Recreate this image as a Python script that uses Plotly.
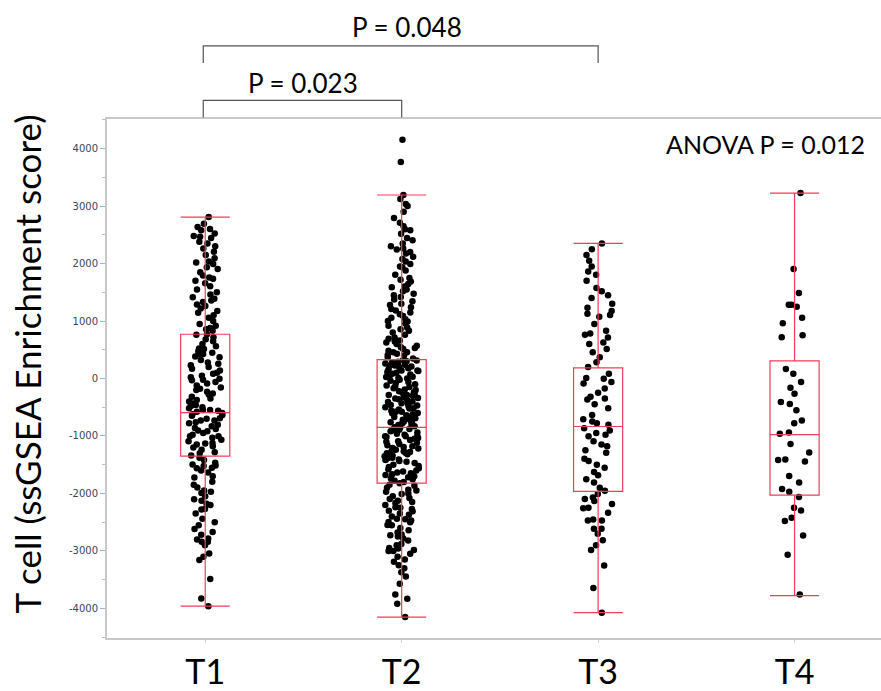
import plotly.graph_objects as go

# Groups on the category axis
groups = ["T1", "T2", "T3", "T4"]

# Per-sample T cell ssGSEA enrichment scores
t1_scores = [
    2809, 2694, 2637, 2579, 2522, 2465, 2447, 2379, 2350, 2263, 2207, 2091, 2034, 2017, 1993,
    1936, 1907, 1793, 1759, 1735, 1656, 1604, 1460, 1415, 1386, 1357, 1288, 1260, 1174, 1145,
    1058, 1002, 916, 857, 830, 771, 760, 685, 599, 513, 473, 427, 382, 427, 370, 255, 198,
    141, 83, -3, -21, -60, -89, -158, -232, -261, -318, -375, -433, -461, -547, -577,
    -519, -547, -634, -692, -731, -731, -806, -904, -950, -1007, -1007, -1064, -1122, -1133,
    -1179, -1282, -1340, -1466, -1512, -1523, -1552, -1495, -1638, -1724, -1799, -1896,
    -1971, -1993, -2126, -2200, -2269, -2281, -2441, -2556, -2671, -2785, -2802, -2843,
    -2843, -3044, -3158, -3491, -3830, -3962,
    2600, 2480, 2300, 2150, 1850, 1700, 1550, 1500, 1330, 1220, 1100, 950, 880, 720, 650,
    560, 520, 450, 320, 280, 230, 170, 100, 50, 20, -30, -120, -180, -200, -280, -350,
    -400, -480, -500, -560, -600, -620, -650, -700, -760, -780, -830, -860, -880, -920,
    -980, -1030, -1090, -1150, -1200, -1240, -1300, -1380, -1420, -1560, -1600, -1700,
    -1850, -1950, -2050, -2100, -2180, -2350, -2500, -2620, -2720, -2900, -3100,
]

t2_scores = [
    4157, 3766, 3193, 3124, 3038, 2791, 2711, 2596, 2521, 2447, 2407, 2263, 2246, 2177, 2120,
    2034, 1993, 1936, 1804, 1690, 1644, 1587, 1518, 1477, 1374, 1346, 1277, 1242, 1184, 1088,
    1058, 1002, 990, 955, 886, 857, 800, 714, 645, 628, 599, 542, 513, 485, 456, 456, 399,
    370, 313, 227, 227, 198, 141, 112, 83,
    3000, 2900, 2650, 2580, 2350, 2300, 2200, 2080, 1950, 1880, 1750, 1720, 1600, 1550, 1450,
    1420, 1300, 1210, 1150, 1120, 1030, 920, 830, 760, 690, 660, 570, 530, 430, 410, 350,
    280, 260, 250,
    141, 26, -289, -289, -347, -461, -519, -577, -605, -692, -749, -778, -892, -1007, -1007,
    -1036, -1179, -1208, -1265, -1294, -1351, -1380, -1408, -1437, -1523, -1580, -1638,
    -1666, -1753, -1822, -1867, -1936, -1971, -2011, -2097, -2126, -2166, -2241, -2269,
    -2310, -2372, -2441, -2470, -2499, -2556, -2642, -2716, -2728, -2785, -2900, -2957,
    -2986, -3003, -3003, -3101, -3187, -3301, -3370, -3446, -3571, -3761, -3835, -3921, -4151,
    320, 300, 290, 240, 210, 180, 160, 130, 100, 70, 50, 30, 10, 0, -20, -40, -60, -80,
    -100, -120, -140, -150, -170, -190, -200, -220, -240, -250, -270, -300, -320, -340,
    -360, -380, -400, -410, -430, -450, -470, -490, -500, -520, -540, -560, -580, -600,
    -620, -640, -650, -670, -700, -720, -740, -760, -780, -800, -810, -830, -850, -850,
    -870, -880, -900, -920, -940, -960, -980, -1000, -1020, -1050, -1070, -1090, -1100,
    -1120, -1140, -1160, -1190, -1220, -1240, -1260, -1280, -1300, -1320, -1340, -1360,
    -1390, -1420, -1450, -1470, -1500, -1540, -1560, -1600, -1620, -1650, -1680, -1700,
    -1720, -1740, -1780, -1800,
    -1850, -1900, -1950, -2000, -2050, -2080, -2150, -2200, -2250, -2300, -2350, -2400,
    -2450, -2500, -2550, -2600, -2680, -2750, -2820, -2880, -2950, -3050, -3150, -3250,
]

t3_scores = [
    2350, 2051, 1862, 1804, 1575, 1518, 1403, 1231, 1173, 1127, 1104, 1076, 829, 783, 760,
    714, 628, 513, 456, 370, 284, 83, 9, -3, -60, -89, -175, -318, -365, -347, -519, -634,
    -709, -749, -778, -806, -864, -904, -978, -1007, -1093, -1150, -1179, -1294, -1398,
    -1437, -1552, -1626, -1684, -1753, -1810, -1953, -2011, -2069, -2097, -2131, -2183,
    -2258, -2338, -2453, -2470, -2470, -2613, -2613, -2814, -2900, -2986, -3256, -3645, -4076,
    2250, 2150, 1950, 1700, 1450, 1300, 950, 600, 200, -250, -450, -950, -1250, -1500,
    -1900, -2250, -2700,
]

t4_scores = [
    3227, 1907, 1489, 1248, 1284, 1284, 1058, 960, 754, 720, 164, 83, -60, -163, -267, -410,
    -445, -554, -731, -777, -938, -961, -1139, -1288, -1408, -1420, -1443, -1695, -1810,
    -1925, -1971, -2062, -2251, -2298, -2424, -2482, -2733, -3067, -3761,
]

# Box summary statistics per group
box_q1 = [-1350, -1822, -1965, -2028]
box_median = [-594, -852, -835, -978]
box_q3 = [770, 330, 186, 307]
box_lower = [-3960, -4151, -4076, -3778]
box_upper = [2809, 3193, 2350, 3227]

# Pairwise comparisons drawn as brackets above the plot
pair_left = ["T1", "T1"]
pair_right = ["T3", "T2"]
pair_labels = ["P = 0.048", "P = 0.023"]
anova_label = "ANOVA P = 0.012"

y_tick_vals = [-4000, -3000, -2000, -1000, 0, 1000, 2000, 3000, 4000]

BOX_RED = "rgb(238,62,88)"
TEXT_FONT = "Lato, 'Open Sans', sans-serif"

fig = go.Figure()

# Jittered sample points (box outline hidden; only the points are shown)
for name, scores in zip(groups, [t1_scores, t2_scores, t3_scores, t4_scores]):
    fig.add_trace(go.Box(
        x=[name] * len(scores),
        y=scores,
        boxpoints="all",
        jitter=0.7,
        pointpos=0,
        width=0.25,
        whiskerwidth=0,
        fillcolor="rgba(0,0,0,0)",
        line=dict(width=0, color="rgba(0,0,0,0)"),
        marker=dict(color="black", size=6.5),
        showlegend=False,
        hoverinfo="y",
    ))

# Red box-and-whisker outlines from the summary statistics
fig.add_trace(go.Box(
    x=groups,
    q1=box_q1,
    median=box_median,
    q3=box_q3,
    lowerfence=box_lower,
    upperfence=box_upper,
    width=0.25,
    whiskerwidth=1,
    fillcolor="rgba(0,0,0,0)",
    line=dict(color=BOX_RED, width=1.2),
    boxpoints=False,
    showlegend=False,
))

# Significance brackets
cat_index = {g: i for i, g in enumerate(groups)}
bracket_top = [1.141, 1.036]
bracket_drop = 0.033
label_y = [1.178, 1.070]
label_shift = [6, 1]
for left, right, label, top, ly, dx in zip(pair_left, pair_right, pair_labels,
                                           bracket_top, label_y, label_shift):
    x0 = cat_index[left] - 0.01
    x1 = cat_index[right]
    fig.add_shape(
        type="path",
        xref="x", yref="paper",
        path=f"M {x0},{top - bracket_drop} L {x0},{top} L {x1},{top} L {x1},{top - bracket_drop}",
        line=dict(color="#555555", width=1.2),
    )
    fig.add_annotation(
        x=(x0 + x1) / 2, y=ly, xref="x", yref="paper", xshift=dx,
        text=label, showarrow=False,
        font=dict(family=TEXT_FONT, size=26, color="black"),
        xanchor="center", yanchor="middle",
    )

fig.add_annotation(
    x=1, y=0.952, xref="paper", yref="paper", xshift=-14,
    text=anova_label, showarrow=False,
    font=dict(family=TEXT_FONT, size=25, color="black"),
    xanchor="right", yanchor="middle",
)

# Y-axis title
fig.add_annotation(
    x=0, y=0.5, xref="paper", yref="paper", xshift=-81, yshift=14,
    text="T cell (ssGSEA Enrichment score)", textangle=-90, showarrow=False,
    font=dict(family=TEXT_FONT, size=35, color="black"),
    xanchor="center", yanchor="middle",
)

fig.update_layout(
    width=881, height=691,
    margin=dict(l=107, r=0, t=119, b=47),
    paper_bgcolor="white",
    plot_bgcolor="white",
    boxmode="overlay",
    showlegend=False,
    xaxis=dict(
        type="category",
        categoryorder="array",
        categoryarray=groups,
        range=[-0.5, 3.44],
        showline=True, linecolor="#c8c8c8", linewidth=2, mirror=True,
        ticks="outside", ticklen=3, tickcolor="#d0d0d0",
        tickfont=dict(family=TEXT_FONT, size=34, color="black"),
        showgrid=False, zeroline=False,
    ),
    yaxis=dict(
        range=[-4516, 4516],
        tickvals=y_tick_vals,
        ticktext=[str(v) for v in y_tick_vals],
        showline=True, linecolor="#c8c8c8", linewidth=2,
        ticks="outside", ticklen=5, tickcolor="#b0b0b0",
        minor=dict(dtick=500, ticks="outside", ticklen=3, tickcolor="#c0c0c0"),
        tickfont=dict(family="'DejaVu Sans', sans-serif", size=10, color="#3a4656"),
        showgrid=False, zeroline=False,
    ),
)

fig.write_html("out.html")
